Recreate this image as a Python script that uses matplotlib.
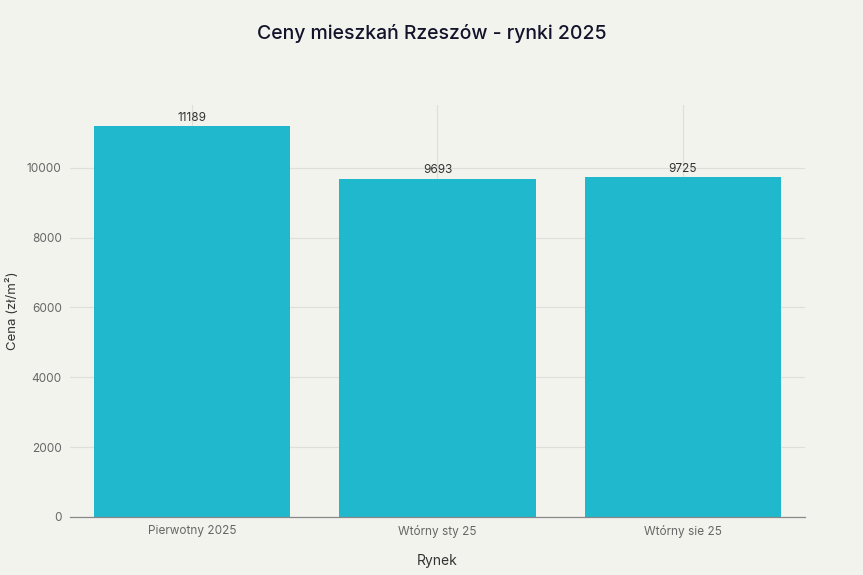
import matplotlib
matplotlib.use("Agg")
import matplotlib.pyplot as plt

categories = ["Pierwotny 2025", "Wtórny sty 25", "Wtórny sie 25"]
values = [11189, 9693, 9725]
yticks = [0, 2000, 4000, 6000, 8000, 10000]

bg = "#F3F3EE"
bar_color = "#1FB8CD"

plt.rcParams['font.family'] = ['Inter', 'DejaVu Sans']

fig = plt.figure(figsize=(8.63, 5.75), dpi=100, facecolor=bg)
ax = fig.add_axes([0.0811, 0.1009, 0.8517, 0.7165], facecolor=bg)

x = list(range(len(categories)))
bars = ax.bar(x, values, width=0.8, color=bar_color, zorder=3)

for xi, v in zip(x, values):
    ax.annotate(str(v), (xi, v), xytext=(0, 2), textcoords="offset points",
                ha="center", va="bottom", fontsize=8.5, color="#333333", zorder=4)

ax.set_xlim(-0.5, 2.5)
ax.set_ylim(0, 11800)
ax.set_xticks(x)
ax.set_xticklabels(categories)
ax.set_yticks(yticks)

ax.grid(True, color="#DEDEDA", linewidth=0.8, zorder=0)
for s in ["top", "right", "left"]:
    ax.spines[s].set_visible(False)
ax.spines["bottom"].set_color("#888888")
ax.spines["bottom"].set_linewidth(0.9)
ax.spines["bottom"].set_zorder(5)

ax.tick_params(axis="both", length=0, labelsize=8.5, labelcolor="#666666")
ax.tick_params(axis="y", pad=6)
ax.tick_params(axis="x", pad=6)

ax.set_xlabel("Rynek", fontsize=10, color="#333333", labelpad=11)
ax.set_ylabel("Cena (zł/m²)", fontsize=9.5, color="#333333", labelpad=6)

fig.suptitle("Ceny mieszkań Rzeszów - rynki 2025", x=0.5, y=0.958,
             fontsize=14, color="#13132B", fontweight="medium")

fig.savefig("out.png", dpi=100, facecolor=bg)
